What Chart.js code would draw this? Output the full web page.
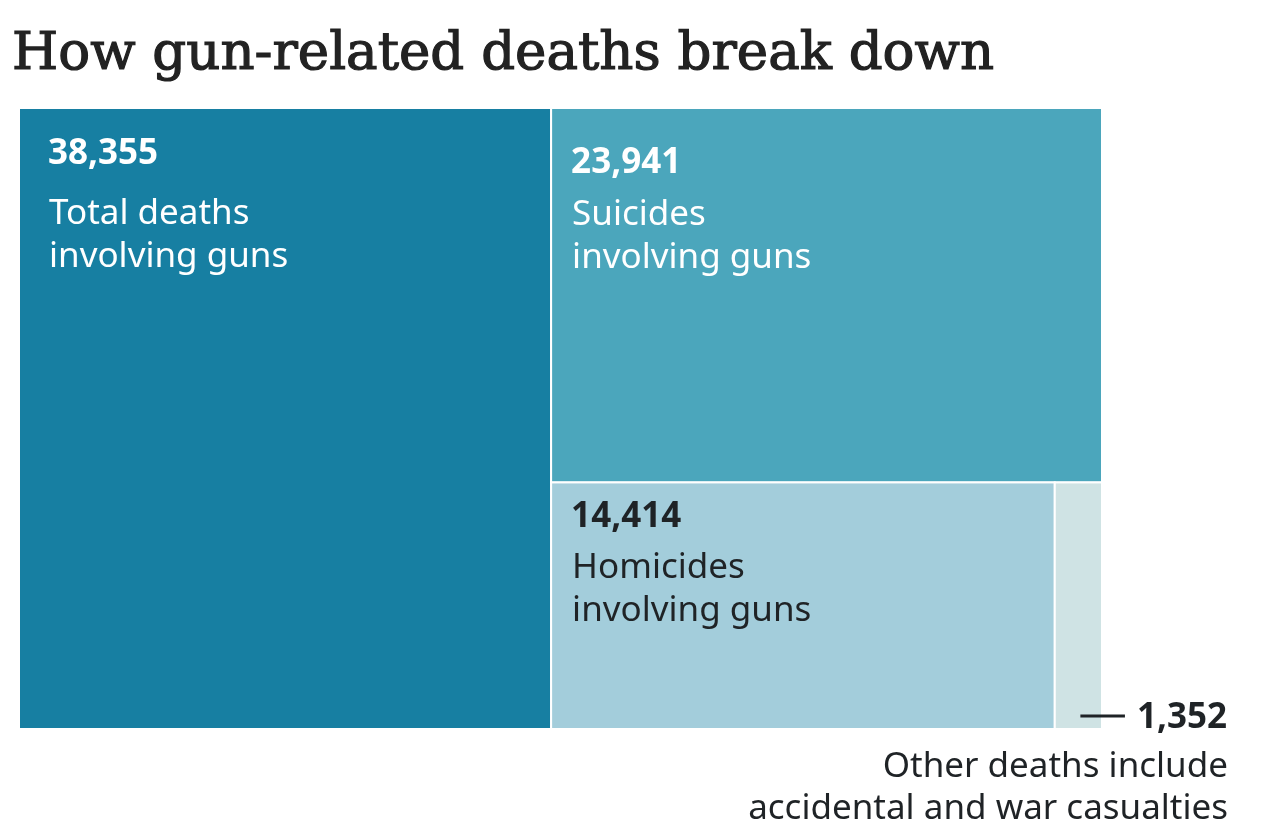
<!DOCTYPE html>
<html>
<head>
<meta charset="utf-8">
<script src="https://cdn.jsdelivr.net/npm/chart.js@4"></script>
<style>
  html, body { margin: 0; padding: 0; background: #ffffff; }
  #wrap { width: 1280px; height: 840px; }
</style>
</head>
<body>
<div id="wrap"><canvas id="gunChart" width="1280" height="840"></canvas></div>
<script>
// data
const titleText = 'How gun-related deaths break down';
const totalDeaths = 38355;
const totalLabel = ['Total deaths', 'involving guns'];
const partNames = ['Suicides', 'Homicides', 'Other'];
const partValues = [23941, 14414, 1352];
const partLabels = [['Suicides', 'involving guns'], ['Homicides', 'involving guns'], []];
const otherNote = ['Other deaths include', 'accidental and war casualties'];

const fmt = n => n.toLocaleString('en-GB');

// treemap layout in data units (x = value / height, y from 0 to 1)
const partSum = partValues.reduce((a, b) => a + b, 0);
const suicideH = partValues[0] / partSum;
const lowerH = 1 - suicideH;
const cells = [
  { name: 'Total', value: totalDeaths, label: totalLabel,
    x0: 0, x1: totalDeaths, y0: 0, y1: 1 },
  { name: partNames[0], value: partValues[0], label: partLabels[0],
    x0: totalDeaths, x1: totalDeaths + partSum, y0: lowerH, y1: 1 },
  { name: partNames[1], value: partValues[1], label: partLabels[1],
    x0: totalDeaths, x1: totalDeaths + partValues[1] / lowerH, y0: 0, y1: lowerH },
  { name: partNames[2], value: partValues[2], label: partLabels[2],
    x0: totalDeaths + partValues[1] / lowerH, x1: totalDeaths + partSum, y0: 0, y1: lowerH }
];

// styles per cell
const cellColors = ['#177fa2', '#4ba6bc', '#a3cddb', '#cfe3e4'];
const textColors = ['#ffffff', '#ffffff', '#1f2326', '#1f2326'];
// x / y: number position from cell corner, gap: number baseline -> first label line
const textPad = [{ x: 29, y: 56, gap: 60 }, { x: 20, y: 65, gap: 52 }, { x: 20, y: 45, gap: 51 }, null];
const lineStep = 43;

const sans = '"Noto Sans", "Open Sans", sans-serif';

const treemapCells = {
  id: 'treemapCells',
  afterDatasetsDraw(chart) {
    const { ctx, scales: { x, y } } = chart;
    ctx.save();
    cells.forEach((c, i) => {
      const left = x.getPixelForValue(c.x0);
      const right = x.getPixelForValue(c.x1);
      const top = y.getPixelForValue(c.y1);
      const bottom = y.getPixelForValue(c.y0);
      ctx.fillStyle = cellColors[i];
      ctx.fillRect(left, top, right - left, bottom - top);
      ctx.strokeStyle = '#ffffff';
      ctx.lineWidth = 2;
      ctx.strokeRect(left, top, right - left, bottom - top);

      const pad = textPad[i];
      if (!pad) return;
      ctx.fillStyle = textColors[i];
      ctx.textAlign = 'left';
      ctx.textBaseline = 'alphabetic';
      ctx.font = 'bold 35px ' + sans;
      ctx.fillText(fmt(c.value), left + pad.x, top + pad.y);
      ctx.font = '35px ' + sans;
      c.label.forEach((line, k) => {
        ctx.fillText(line, left + pad.x + 1, top + pad.y + pad.gap + k * lineStep);
      });
    });

    // leader + note for the small "other" cell
    const o = cells[3];
    const cx = (x.getPixelForValue(o.x0) + x.getPixelForValue(o.x1)) / 2;
    const by = y.getPixelForValue(o.y0);
    const noteRight = 1227;
    ctx.fillStyle = '#1f2326';
    ctx.font = 'bold 35px ' + sans;
    ctx.textAlign = 'right';
    const numText = fmt(o.value);
    ctx.fillText(numText, noteRight, by - 1);
    const numW = ctx.measureText(numText).width;
    ctx.strokeStyle = '#1f2326';
    ctx.lineWidth = 3;
    ctx.beginPath();
    ctx.moveTo(cx + 2, by - 13);
    ctx.lineTo(noteRight - numW - 12, by - 13);
    ctx.stroke();
    ctx.font = '35px ' + sans;
    otherNote.forEach((line, k) => {
      ctx.fillText(line, noteRight + 1, by + 48 + k * 42);
    });

    // title
    ctx.textAlign = 'left';
    ctx.fillStyle = '#222222';
    ctx.strokeStyle = '#222222';
    ctx.lineWidth = 1.2;
    ctx.font = '53px "DejaVu Serif", serif';
    ctx.fillText(titleText, 12, 69);
    ctx.strokeText(titleText, 12, 69);
    ctx.restore();
  }
};

const ctx = document.getElementById('gunChart').getContext('2d');
const gunChart = new Chart(ctx, {
  type: 'scatter',
  data: {
    datasets: [{
      label: 'cells',
      data: cells.map(c => ({ x: (c.x0 + c.x1) / 2, y: (c.y0 + c.y1) / 2 })),
      pointRadius: 0
    }]
  },
  options: {
    responsive: false,
    animation: false,
    layout: { padding: { top: 108, left: 19, right: 178, bottom: 111 } },
    scales: {
      x: { type: 'linear', display: false, min: 0, max: totalDeaths + partSum },
      y: { type: 'linear', display: false, min: 0, max: 1 }
    },
    plugins: {
      legend: { display: false },
      tooltip: { enabled: false },
      title: { display: false }
    }
  },
  plugins: [treemapCells]
});
</script>
</body>
</html>
